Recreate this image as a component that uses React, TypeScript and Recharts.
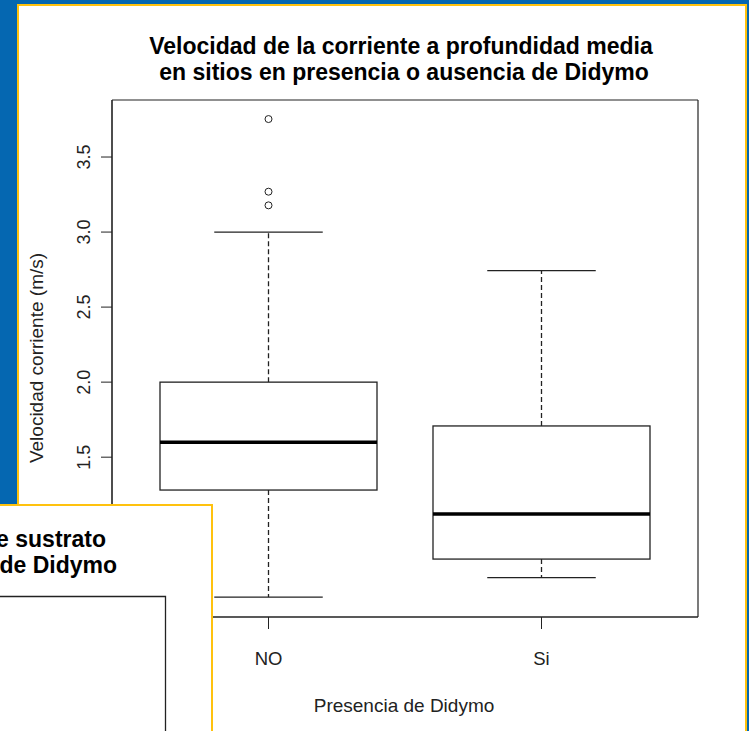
import React from 'react';
import { ComposedChart, Bar, Line, XAxis, YAxis, CartesianGrid } from 'recharts';

// values
const categories = ['NO', 'Si'];
const whiskerLow = [0.568, 0.697];
const q1 = [1.281, 0.821];
const median = [1.599, 1.121];
const q3 = [2.0, 1.708];
const whiskerHigh = [3.0, 2.743];
const outliers = [[3.178, 3.269, 3.753], []];
const yTicks = [0.5, 1.0, 1.5, 2.0, 2.5, 3.0, 3.5];
const yDomain = [0.435, 3.88];

const title = ['Velocidad de la corriente a profundidad media', 'en sitios en presencia o ausencia de Didymo'];
const yTitle = 'Velocidad corriente (m/s)';
const xTitle = 'Presencia de Didymo';
const hiddenTitle = ['e sustrato', 'de Didymo'];

const data = categories.map((cat, i) => ({
  cat,
  range: [whiskerLow[i], whiskerHigh[i]],
  q1: q1[i],
  med: median[i],
  q3: q3[i],
  o1: outliers[i][0] ?? null,
  o2: outliers[i][1] ?? null,
  o3: outliers[i][2] ?? null,
}));

const BLUE = '#0567b1';
const YELLOW = '#ffc20e';
const INK = '#222';
const FONT = '"Liberation Sans", Arial, sans-serif';

const BoxShape = (props: any) => {
  const { x, y, width, height, payload } = props;
  const [lo, hi] = payload.range;
  const k = height / (hi - lo);
  const py = (v: number) => y + (hi - v) * k;
  const cx = x + width / 2;
  const cl = cx - width / 4;
  const cr = cx + width / 4;
  return (
    <g>
      <line x1={cx} x2={cx} y1={py(payload.q3)} y2={py(hi)} stroke={INK} strokeWidth={1.3} strokeDasharray="5 3" />
      <line x1={cx} x2={cx} y1={py(payload.q1)} y2={py(lo)} stroke={INK} strokeWidth={1.3} strokeDasharray="5 3" />
      <line x1={cl} x2={cr} y1={py(hi)} y2={py(hi)} stroke={INK} strokeWidth={1.3} />
      <line x1={cl} x2={cr} y1={py(lo)} y2={py(lo)} stroke={INK} strokeWidth={1.3} />
      <rect x={x} y={py(payload.q3)} width={width} height={py(payload.q1) - py(payload.q3)} fill="#fff" stroke={INK} strokeWidth={1.3} />
      <line x1={x} x2={x + width} y1={py(payload.med)} y2={py(payload.med)} stroke="#000" strokeWidth={3.5} />
    </g>
  );
};

const YTick = (props: any) => {
  const { x, y, payload } = props;
  return (
    <text transform={`translate(${x - 11},${y}) rotate(-90)`} textAnchor="middle" fontSize={18} fill={INK} fontFamily={FONT}>
      {payload.value.toFixed(1)}
    </text>
  );
};

const XTick = (props: any) => {
  const { x, y, payload } = props;
  return (
    <text x={x} y={y + 36} textAnchor="middle" fontSize={18.5} fill={INK} fontFamily={FONT}>
      {payload.value}
    </text>
  );
};

const dot = { r: 3.5, fill: '#fff', stroke: INK, strokeWidth: 1 };

// plot frame (R's box()) taken from the chart's own plot area
const frameRows = ({ offset }: any) => [offset.top, offset.top + offset.height];
const frameCols = ({ offset }: any) => [offset.left, offset.left + offset.width];

export default function App() {
  return (
    <div style={{ position: 'fixed', left: 0, top: 0, width: 749, height: 731, background: BLUE, overflow: 'hidden', fontFamily: FONT }}>
      <div style={{ position: 'absolute', left: 17, top: 4, width: 730, height: 800, boxSizing: 'border-box', background: '#fff', border: `2px solid ${YELLOW}` }} />
      <div style={{ position: 'absolute', left: 0, top: 0 }}>
        <ComposedChart width={749} height={731} data={data} margin={{ top: 100, right: 51, left: 52, bottom: 74 }}>
          <CartesianGrid stroke={INK} strokeWidth={1.2} horizontalCoordinatesGenerator={frameRows} verticalCoordinatesGenerator={frameCols} />
          <XAxis dataKey="cat" height={40} padding={{ left: 20, right: 20 }} tickSize={12} tickMargin={0}
            axisLine={{ stroke: INK }} tickLine={{ stroke: INK }} tick={XTick} />
          <YAxis type="number" domain={yDomain} ticks={yTicks} width={60} tickSize={11} tickMargin={0}
            allowDataOverflow axisLine={{ stroke: INK }} tickLine={{ stroke: INK }} tick={YTick} />
          <Bar dataKey="range" barSize={217} shape={BoxShape} isAnimationActive={false} />
          <Line dataKey="o1" stroke="none" dot={dot} activeDot={false} isAnimationActive={false} />
          <Line dataKey="o2" stroke="none" dot={dot} activeDot={false} isAnimationActive={false} />
          <Line dataKey="o3" stroke="none" dot={dot} activeDot={false} isAnimationActive={false} />
        </ComposedChart>
      </div>
      <svg width={749} height={731} style={{ position: 'absolute', left: 0, top: 0 }}>
        <text x={401} y={54} textAnchor="middle" fontSize={23} fontWeight="bold" fill="#000">{title[0]}</text>
        <text x={404} y={80} textAnchor="middle" fontSize={23} fontWeight="bold" fill="#000">{title[1]}</text>
        <text transform="translate(43,358) rotate(-90)" textAnchor="middle" fontSize={19} fill={INK}>{yTitle}</text>
        <text x={404} y={712} textAnchor="middle" fontSize={19} fill={INK}>{xTitle}</text>
        <rect x={-10} y={505} width={222} height={300} fill="#fff" stroke={YELLOW} strokeWidth={2} />
        <text x={106} y={547} textAnchor="end" fontSize={23} fontWeight="bold" fill="#000">{hiddenTitle[0]}</text>
        <text x={117} y={573} textAnchor="end" fontSize={23} fontWeight="bold" fill="#000">{hiddenTitle[1]}</text>
        <polyline points="-10,596.5 165.5,596.5 165.5,760" fill="none" stroke={INK} strokeWidth={1.3} />
      </svg>
    </div>
  );
}
